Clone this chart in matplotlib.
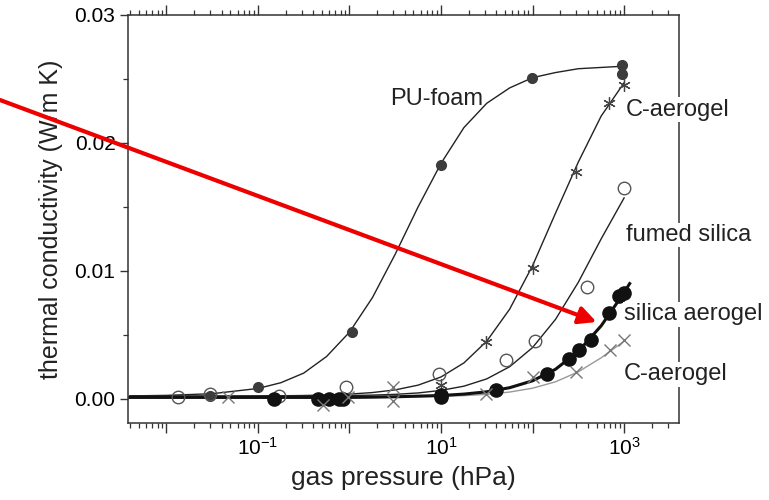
import matplotlib
matplotlib.use('Agg')
import matplotlib.pyplot as plt
from matplotlib.text import Annotation
from matplotlib.ticker import FixedLocator, LogLocator, NullFormatter, MultipleLocator

plt.rcParams['font.family'] = ['Liberation Sans', 'DejaVu Sans']
plt.rcParams['mathtext.fontset'] = 'custom'
plt.rcParams['mathtext.rm'] = 'Liberation Sans'
plt.rcParams['mathtext.default'] = 'regular'

# measured points (gas pressure hPa, thermal conductivity W/mK)
pu_p = [0.03, 0.1, 1.07, 10, 98, 960, 960]
pu_k = [0.0002, 0.0009, 0.0052, 0.0183, 0.0251, 0.0261, 0.0254]

cstar_p = [10, 31, 100, 300, 690, 1000]
cstar_k = [0.0011, 0.0044, 0.0102, 0.0177, 0.0231, 0.0245]

fumed_p = [0.0135, 0.030, 0.17, 0.91, 9.5, 51, 107, 390, 1000]
fumed_k = [0.0001, 0.0004, 0.0002, 0.0009, 0.0019, 0.0030, 0.0045, 0.0087, 0.0165]

silica_p = [0.15, 0.45, 0.59, 0.76, 0.85, 10, 10, 40, 145, 250, 320, 430, 680, 870, 1000]
silica_k = [0.0, 0.0, 0.0, 0.0, 0.0, 0.0003, 0.00015, 0.0007, 0.0019, 0.0031, 0.0038,
            0.0046, 0.0067, 0.0080, 0.0083]

cx_p = [0.047, 0.52, 0.97, 3.0, 3.0, 31, 100, 300, 710, 1000]
cx_k = [0.0001, -0.0005, 0.0001, 0.0009, -0.0002, 0.0004, 0.0017, 0.0021, 0.0038, 0.0046]

# fitted curves
curve_p = [0.004, 0.01, 0.0316, 0.1, 0.178, 0.316, 0.562, 1, 1.78, 3.16, 5.62, 10,
           17.8, 31.6, 56.2, 100, 178, 316, 562, 1000]
pu_fit = [0.00022, 0.00026, 0.00039, 0.0008, 0.00125, 0.0020, 0.0033, 0.0052, 0.0079,
          0.0113, 0.0150, 0.0184, 0.0212, 0.0231, 0.0243, 0.0251, 0.0255, 0.0258,
          0.0259, 0.0260]
cstar_fit = [0.0002, 0.0002, 0.0002, 0.00022, 0.00023, 0.00025, 0.00029, 0.00036,
             0.00048, 0.00069, 0.00106, 0.0017, 0.0028, 0.0045, 0.0070, 0.0104,
             0.0145, 0.0185, 0.0221, 0.0247]
fumed_fit = [0.0002, 0.0002, 0.0002, 0.0002, 0.0002, 0.0002, 0.00022, 0.00025, 0.00028,
             0.00034, 0.00045, 0.00065, 0.00098, 0.00155, 0.0025, 0.0040, 0.0062,
             0.0091, 0.0125, 0.0157]
cx_fit = [0.0001, 0.0001, 0.0001, 0.0001, 0.0001, 0.0001, 0.0001, 0.00011, 0.00012,
          0.00013, 0.00015, 0.00018, 0.00024, 0.00034, 0.00052, 0.00082, 0.00132,
          0.0021, 0.0032, 0.0045]
silica_fit_p = curve_p + [1150]
silica_fit = [0.0001, 0.0001, 0.0001, 0.0001, 0.0001, 0.0001, 0.0001, 0.0001, 0.00012,
              0.00015, 0.0002, 0.00025, 0.00036, 0.00054, 0.00086, 0.0014, 0.0023,
              0.0037, 0.0057, 0.0083, 0.0090]

fig = plt.figure(figsize=(7.69, 5.0), dpi=100)
ax = fig.add_axes([0.1664, 0.154, 0.7166, 0.816])

ax.plot(curve_p, pu_fit, color='#222222', lw=1.0, zorder=3)
ax.plot(curve_p, cstar_fit, color='#222222', lw=1.0, zorder=3)
ax.plot(curve_p, fumed_fit, color='#222222', lw=1.0, zorder=3)
ax.plot(curve_p, cx_fit, color='#999999', lw=1.0, zorder=3)
ax.plot(silica_fit_p, silica_fit, color='#111111', lw=2.2, zorder=3)

ax.plot(pu_p, pu_k, 'o', color='#3c3c3c', ms=7, zorder=4)
ax.plot(cstar_p, cstar_k, ls='none', marker=(6, 2, 0), color='#444444', ms=9, mew=0.9, zorder=4)
ax.plot(fumed_p, fumed_k, 'o', mfc='none', mec='#555555', ms=9, mew=1.0, zorder=4)
ax.plot(silica_p, silica_k, 'o', color='#111111', ms=9.5, zorder=4)
ax.plot(cx_p, cx_k, 'x', color='#777777', ms=8, mew=1.0, zorder=4)

ax.set_xscale('log')
ax.set_xlim(10 ** -2.42, 10 ** 3.6)
ax.set_ylim(-0.0019, 0.03)

ax.xaxis.set_major_locator(FixedLocator([1e-2, 1e-1, 1, 10, 100, 1000]))
ax.set_xticklabels(['', '$10^{-1}$', '', '$10^{1}$', '', '$10^{3}$'])
ax.xaxis.set_minor_locator(LogLocator(base=10, subs=range(2, 10), numticks=20))
ax.xaxis.set_minor_formatter(NullFormatter())
ax.yaxis.set_minor_locator(MultipleLocator(0.005))
ax.set_yticks([0.0, 0.01, 0.02, 0.03])
ax.set_yticklabels(['0.00', '0.01', '0.02', '0.03'])

ax.tick_params(axis='x', which='both', top=True, bottom=True, direction='out',
               labelsize=15, color='#333333', pad=3)
ax.tick_params(axis='x', which='major', length=7, width=1)
ax.tick_params(axis='x', which='minor', length=3.5, width=0.9)
ax.tick_params(axis='y', which='both', left=True, right=False, direction='out',
               labelsize=15, color='#333333', pad=3)
ax.tick_params(axis='y', which='major', length=6, width=1)
ax.tick_params(axis='y', which='minor', length=3.5, width=0.9)
for s in ax.spines.values():
    s.set_color('#333333')
    s.set_linewidth(1.1)

ax.set_xlabel('gas pressure (hPa)', fontsize=19, color='#222222', labelpad=5)
ax.set_ylabel('thermal conductivity (W/m K)', fontsize=18, color='#222222', labelpad=8)

box = dict(facecolor='white', edgecolor='none', pad=1)
ax.text(2.8, 0.0234, 'PU-foam', fontsize=17, va='center', ha='left', color='#222222')
ax.text(1030, 0.0226, 'C-aerogel', fontsize=17, va='center', ha='left', color='#222222',
        bbox=box, zorder=6)
ax.text(1060, 0.0128, 'fumed silica', fontsize=17, va='center', ha='left', color='#222222',
        bbox=box, zorder=6)
ax.text(1000, 0.0066, 'silica aerogel', fontsize=17, va='center', ha='left', color='#222222',
        bbox=box, zorder=6)
ax.text(990, 0.0019, 'C-aerogel', fontsize=17, va='center', ha='left', color='#222222',
        bbox=box, zorder=6)

# red arrow drawn over everything, pointing at the silica aerogel curve
arrow = Annotation('', xy=(500, 0.0060), xycoords=ax.transData, xytext=(0.0, 0.80),
                   textcoords='figure fraction', annotation_clip=False,
                   arrowprops=dict(arrowstyle='-|>', color='#ee0000', lw=3,
                                   mutation_scale=26, shrinkA=0, shrinkB=0))
arrow.set_zorder(10)
fig.add_artist(arrow)

fig.savefig('out.png', dpi=100)
